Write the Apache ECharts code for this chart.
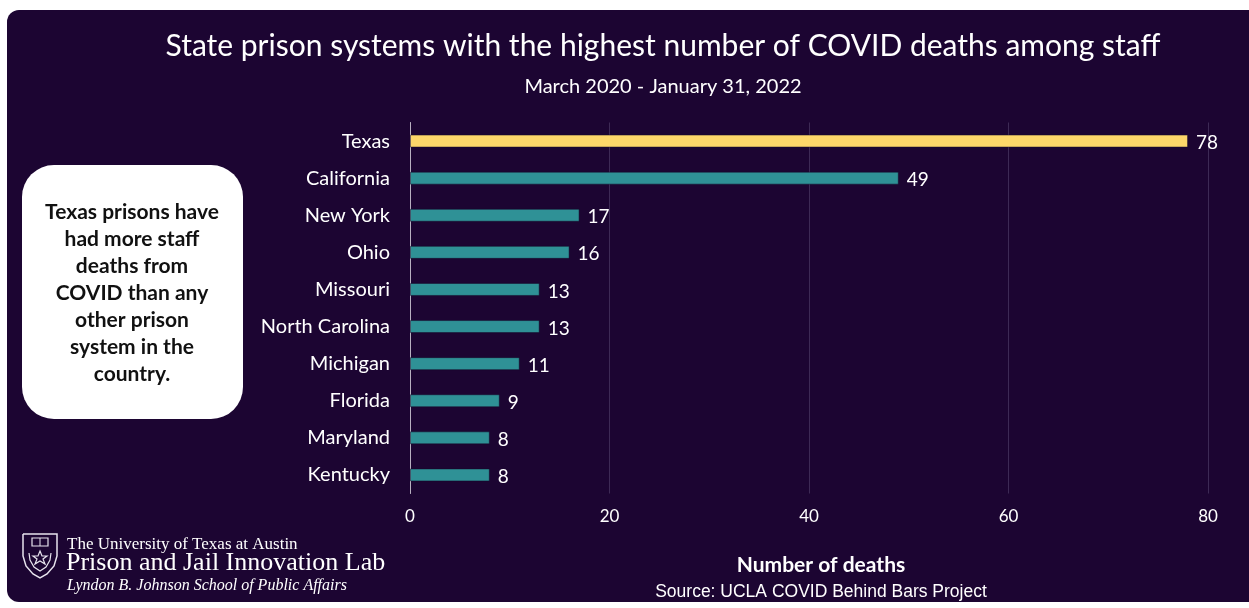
<!DOCTYPE html>
<html>
<head>
<meta charset="utf-8">
<script src="https://cdn.jsdelivr.net/npm/echarts@6/dist/echarts.min.js"></script>
<style>
html,body{margin:0;padding:0;background:#ffffff;}
#chart{width:1249px;height:608px;}
</style>
</head>
<body>
<div id="chart"></div>
<script>
const states = ['Texas','California','New York','Ohio','Missouri','North Carolina','Michigan','Florida','Maryland','Kentucky'];
const deaths = [78, 49, 17, 16, 13, 13, 11, 9, 8, 8];
const xTicks = [0, 20, 40, 60, 80];
const highlight = 'Texas';

const BG = '#1c0532';
const chart = echarts.init(document.getElementById('chart'), null, {renderer:'canvas'});

const seriesData = states.map((s, i) => ({
  value: deaths[i],
  itemStyle: { color: s === highlight ? '#fdd76a' : '#2f9196' }
}));

const LOGO = '#e8e4ee';
const option = {
  backgroundColor: 'transparent',
  animation: false,
  title: [
    { text: 'State prison systems with the highest number of COVID deaths among staff',
      left: 658, top: 26, textAlign: 'center',
      textStyle: { color: '#ffffff', fontFamily: 'Lato', fontSize: 30, fontWeight: 'normal' } },
    { text: 'March 2020 - January 31, 2022',
      left: 658, top: 72, textAlign: 'center',
      textStyle: { color: '#ffffff', fontFamily: 'Lato', fontSize: 20, fontWeight: 'normal' } },
    { text: 'Number of deaths',
      left: 816, top: 550, textAlign: 'center',
      textStyle: { color: '#ffffff', fontFamily: 'Lato', fontSize: 21, fontWeight: 'bold' } },
    { text: 'Source: UCLA COVID Behind Bars Project',
      left: 816, top: 578, textAlign: 'center',
      textStyle: { color: '#ffffff', fontFamily: 'Liberation Sans', fontSize: 17.5, fontWeight: 'normal' } }
  ],
  grid: { left: 410, right: 41, top: 122.5, bottom: 114.5, containLabel: false },
  xAxis: {
    type: 'value', min: 0, max: 80, interval: 20,
    axisLine: { show: false },
    axisTick: { show: false },
    splitLine: { show: true, lineStyle: { color: '#3d2a55', width: 1 } },
    axisLabel: { color: '#ffffff', fontFamily: 'Lato', fontSize: 17, margin: 15,
      formatter: v => xTicks.includes(v) ? String(v) : '' }
  },
  yAxis: {
    type: 'category', data: states, inverse: true,
    axisLine: { show: true, lineStyle: { color: '#b8b0c0', width: 1 } },
    axisTick: { show: false },
    axisLabel: { color: '#ffffff', fontFamily: 'Lato', fontSize: 20, margin: 20 }
  },
  series: [{
    type: 'bar', data: seriesData, barWidth: 13,
    itemStyle: { borderColor: 'rgba(20,10,40,0.5)', borderWidth: 1 },
    label: { show: true, position: 'right', distance: 8, color: '#ffffff',
      fontFamily: 'Lato', fontSize: 19, offset: [0, 2] }
  }],
  graphic: [
    { type: 'rect', z: -10, silent: true,
      shape: { x: 7, y: 10, width: 1260, height: 592, r: 12 },
      style: { fill: BG } },
    { type: 'rect', z: 5,
      shape: { x: 22, y: 165, width: 221, height: 254, r: 32 },
      style: { fill: '#ffffff' } },
    { type: 'text', z: 6,
      style: {
        text: 'Texas prisons have\nhad more staff\ndeaths from\nCOVID than any\nother prison\nsystem in the\ncountry.',
        x: 132, y: 199, align: 'center', fill: '#111111',
        font: 'bold 21px Lato', lineHeight: 27
      } },
    { type: 'polyline', z: 6,
      shape: { points: [[23,534],[57,534],[57,556],[54,566],[47,574],[40,578],[33,574],[26,566],[23,556],[23,534]] },
      style: { fill: 'none', stroke: LOGO, lineWidth: 1.5 } },
    { type: 'rect', z: 6, shape: { x: 32, y: 538, width: 16, height: 8 },
      style: { fill: 'none', stroke: LOGO, lineWidth: 1.2 } },
    { type: 'line', z: 6, shape: { x1: 40, y1: 538, x2: 40, y2: 546 },
      style: { stroke: LOGO, lineWidth: 1 } },
    { type: 'polygon', z: 6,
      shape: { points: [[40,551],[42,556],[47,556],[43,559],[45,564],[40,561],[35,564],[37,559],[33,556],[38,556]] },
      style: { fill: 'none', stroke: LOGO, lineWidth: 1.2 } },
    { type: 'polyline', z: 6,
      shape: { points: [[29,553],[30,560],[34,567],[40,571],[46,567],[50,560],[51,553]] },
      style: { fill: 'none', stroke: LOGO, lineWidth: 1.2 } },
    { type: 'text', z: 6,
      style: { text: 'The University of Texas at Austin', x: 67, y: 536,
        fill: '#ffffff', font: '17px "Liberation Serif"' } },
    { type: 'text', z: 6,
      style: { text: 'Prison and Jail Innovation Lab', x: 66, y: 550,
        fill: '#ffffff', font: '26px "Liberation Serif"' } },
    { type: 'text', z: 6,
      style: { text: 'Lyndon B. Johnson School of Public Affairs', x: 67, y: 578,
        fill: '#ffffff', font: 'italic 16px "Liberation Serif"' } }
  ]
};
chart.setOption(option);
</script>
</body>
</html>
